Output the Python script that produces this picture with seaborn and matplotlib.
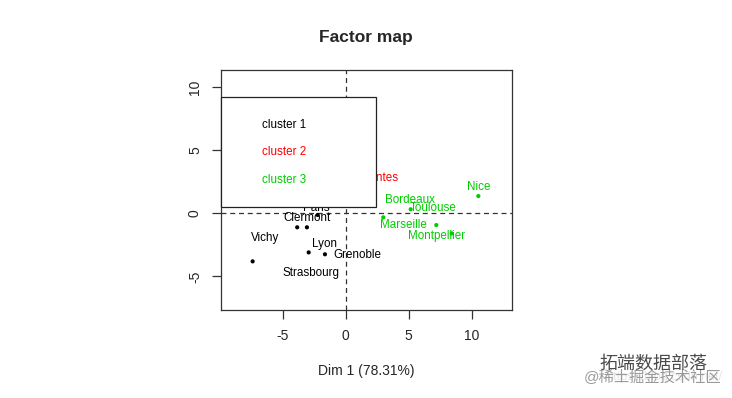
import seaborn as sns
import pandas as pd
import matplotlib

matplotlib.use("Agg")
import matplotlib.pyplot as plt
from matplotlib.patches import Rectangle

# cities on the first factorial plane, with their cluster
cities = ["Vichy", "Strasbourg", "Clermont", "Paris", "Lyon", "Grenoble",
          "Nantes", "Nice", "Bordeaux", "Toulouse", "Marseille", "Montpellier"]
dim1 = [-7.37, -3.84, -3.07, -2.22, -2.93, -1.64,
        2.0, 10.51, 5.15, 8.40, 2.98, 7.18]
dim2 = [-3.81, -1.11, -1.11, -0.13, -3.10, -3.25,
        2.0, 1.37, 0.32, -1.59, -0.32, -0.93]
cluster = ["cluster 1"] * 6 + ["cluster 2"] + ["cluster 3"] * 5

cluster_names = ["cluster 1", "cluster 2", "cluster 3"]
cluster_colors = ["black", "red", "#00CD00"]
x_ticks = [-5, 0, 5, 10]
y_ticks = [-5, 0, 5, 10]
x_label = "Dim 1 (78.31%)"

# label placement (pixels from the point), like autoLab in FactoMineR
label_offsets = {
    "Vichy": (13, 23), "Strasbourg": (14, -46), "Clermont": (0, 9),
    "Paris": (-1, 7), "Lyon": (16, 8), "Grenoble": (32, -1),
    "Nantes": (9, 10), "Nice": (0, 9), "Bordeaux": (-1, 9),
    "Toulouse": (-19, 25), "Marseille": (20, -8), "Montpellier": (0, -11),
}

df = pd.DataFrame({"city": cities, "Dim1": dim1, "Dim2": dim2, "cluster": cluster})
palette = dict(zip(cluster_names, cluster_colors))

sns.set_style("white")
plt.rcParams["font.family"] = ["Liberation Sans", "Noto Sans CJK SC", "DejaVu Sans"]
plt.rcParams["axes.unicode_minus"] = False

fig = plt.figure(figsize=(7.32, 3.98), dpi=100)
ax = fig.add_axes([0.3015, 0.2211, 0.3975, 0.603])

ax.axhline(0, color="#333333", linestyle=(0, (4, 3)), linewidth=0.9, zorder=1)
ax.axvline(0, color="#333333", linestyle=(0, (4, 3)), linewidth=0.9, zorder=1)

sns.scatterplot(
    data=df, x="Dim1", y="Dim2", hue="cluster", palette=palette,
    hue_order=cluster_names, s=9, linewidth=0, legend=False, ax=ax, zorder=2,
)

for _, row in df.iterrows():
    dx, dy = label_offsets[row["city"]]
    ax.annotate(
        row["city"], (row["Dim1"], row["Dim2"]), xytext=(dx, dy),
        textcoords="offset pixels", ha="center", va="center",
        fontsize=8.4, color=palette[row["cluster"]], zorder=3,
    )

# legend box as drawn by R (text only, big white frame)
ax.add_patch(Rectangle((0, 0.43), 0.534, 0.459, transform=ax.transAxes,
                       facecolor="white", edgecolor="#222222", linewidth=0.9,
                       zorder=5, clip_on=False))
for i, (name, col) in enumerate(zip(cluster_names, cluster_colors)):
    ax.text(0.142, 0.771 - i * 0.1145, name, transform=ax.transAxes,
            ha="left", va="center", fontsize=8.4, color=col, zorder=6)

ax.set_xlim(-9.9, 13.15)
ax.set_ylim(-7.67, 11.37)
ax.set_xticks(x_ticks)
ax.set_yticks(y_ticks)
ax.tick_params(axis="both", length=6.5, width=0.9, color="#333333",
               labelsize=10, pad=7, direction="out", bottom=True, left=True)
for lab in ax.get_yticklabels():
    lab.set_rotation(90)
    lab.set_va("center")
for sp in ax.spines.values():
    sp.set_color("#333333")
    sp.set_linewidth(0.9)

ax.set_xlabel(x_label, fontsize=10, labelpad=15)
ax.set_ylabel("")
ax.set_title("Factor map", fontsize=12.5, fontweight="bold", pad=20)

# watermark of the source page
fig.text(0.986, 0.052, "https://blog.csdn.net/", ha="right", va="center",
         fontsize=9, color="#e4e4e4")
fig.text(0.986, 0.053, "@稀土掘金技术社区", ha="right", va="center",
         fontsize=11, color="#9a9a9a")
fig.text(0.967, 0.085, "拓端数据部落", ha="right", va="center",
         fontsize=13, color="#4a4a4a")

fig.savefig("out.png", dpi=100)
plt.close(fig)
